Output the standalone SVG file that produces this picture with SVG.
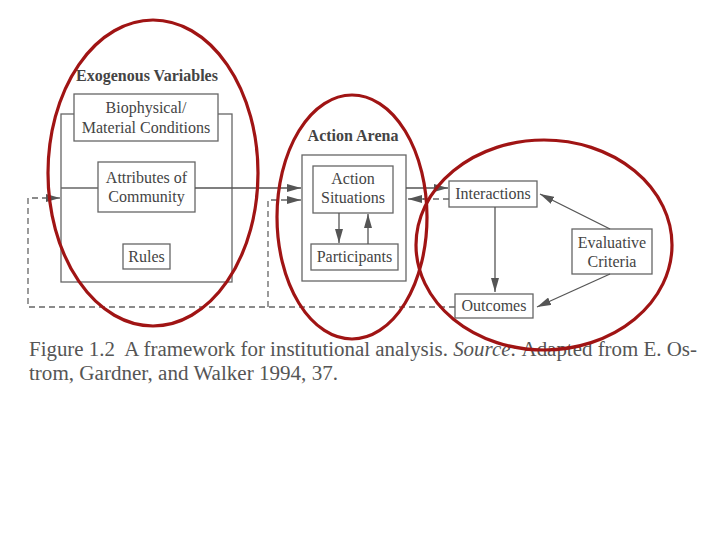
<svg xmlns="http://www.w3.org/2000/svg" width="720" height="540" viewBox="0 0 720 540">
<defs>
<marker id="ah" viewBox="0 0 14 8" refX="14" refY="4" markerWidth="14" markerHeight="8" markerUnits="userSpaceOnUse" orient="auto">
<path d="M0,0 L14,4 L0,8 z" fill="#555"/>
</marker>
</defs>
<style>
.box{fill:none;stroke:#666;stroke-width:1.3}
.t{font-family:"Liberation Serif",serif;font-size:16px;fill:#444;text-anchor:middle}
.h{font-family:"Liberation Serif",serif;font-size:16px;font-weight:bold;fill:#444;text-anchor:middle}
.ln{fill:none;stroke:#666;stroke-width:1.3}
.ar{fill:none;stroke:#555;stroke-width:1.3;marker-end:url(#ah)}
.ds{fill:none;stroke:#666;stroke-width:1.3;stroke-dasharray:6,4}
.cap{font-family:"Liberation Serif",serif;font-size:20px;fill:#555;white-space:pre}
.ov{fill:none;stroke:#a01414;stroke-width:3.2}
</style>
<rect width="720" height="540" fill="#fff"/>
<g id="exogenous">
<text class="h" x="147" y="81">Exogenous Variables</text>
<rect class="box" x="61" y="114" width="171" height="168"/>
</g>
<g id="biophysical">
<rect class="box" x="74" y="94" width="144" height="47" style="fill:#fff"/>
<text class="t" x="146" y="113">Biophysical/</text>
<text class="t" x="146" y="133">Material Conditions</text>
</g>
<g id="attributes">
<rect class="box" x="98" y="162" width="97" height="50"/>
<text class="t" x="146.5" y="183">Attributes of</text>
<text class="t" x="146.5" y="202">Community</text>
</g>
<g id="rules">
<rect class="box" x="123" y="244" width="47" height="25"/>
<text class="t" x="146.5" y="262">Rules</text>
</g>
<g id="action-arena">
<text class="h" x="353" y="141">Action Arena</text>
<rect class="box" x="302" y="155" width="104" height="126"/>
</g>
<g id="action-situations">
<rect class="box" x="313" y="166" width="80" height="47"/>
<text class="t" x="353" y="184">Action</text>
<text class="t" x="353" y="203">Situations</text>
</g>
<g id="participants">
<rect class="box" x="311" y="244" width="87" height="26"/>
<text class="t" x="354.5" y="262">Participants</text>
</g>
<g id="interactions">
<rect class="box" x="449" y="181" width="88" height="26"/>
<text class="t" x="493" y="199">Interactions</text>
</g>
<g id="outcomes">
<rect class="box" x="455" y="294" width="78" height="24"/>
<text class="t" x="494" y="311">Outcomes</text>
</g>
<g id="evaluative">
<rect class="box" x="572" y="229" width="80" height="45"/>
<text class="t" x="612" y="248">Evaluative</text>
<text class="t" x="612" y="267">Criteria</text>
</g>
<g id="connectors">
<line class="ln" x1="61" y1="188" x2="98" y2="188"/>
<line class="ar" x1="195" y1="188" x2="301" y2="188"/>
<path class="ds" d="M455,307 H28 V198 H48"/>
<line class="ar" x1="46" y1="198" x2="60" y2="198"/>
<path class="ds" d="M268,307 V200 H290"/>
<line class="ar" x1="288" y1="200" x2="301" y2="200"/>
<line class="ar" x1="339" y1="213" x2="339" y2="243"/>
<line class="ar" x1="368" y1="244" x2="368" y2="214"/>
<line class="ar" x1="406" y1="188" x2="448" y2="188"/>
<line class="ds" x1="449" y1="199" x2="422" y2="199"/>
<line class="ar" x1="424" y1="199" x2="408" y2="199"/>
<line class="ar" x1="495" y1="207" x2="495" y2="292"/>
<line class="ar" x1="610" y1="229" x2="540" y2="194"/>
<line class="ar" x1="610" y1="274" x2="537" y2="307"/>
</g>
<g id="caption">
<text class="cap" x="29" y="356" textLength="668" lengthAdjust="spacingAndGlyphs">Figure 1.2  A framework for institutional analysis. <tspan font-style="italic">Source:</tspan> Adapted from E. Os-</text>
<text class="cap" x="29" y="380" textLength="309" lengthAdjust="spacingAndGlyphs">trom, Gardner, and Walker 1994, 37.</text>
</g>
<g id="highlights">
<ellipse class="ov" cx="153" cy="173" rx="105" ry="153"/>
<ellipse class="ov" cx="352" cy="217" rx="75" ry="122"/>
<ellipse class="ov" cx="544" cy="245" rx="128" ry="105"/>
</g>
</svg>
